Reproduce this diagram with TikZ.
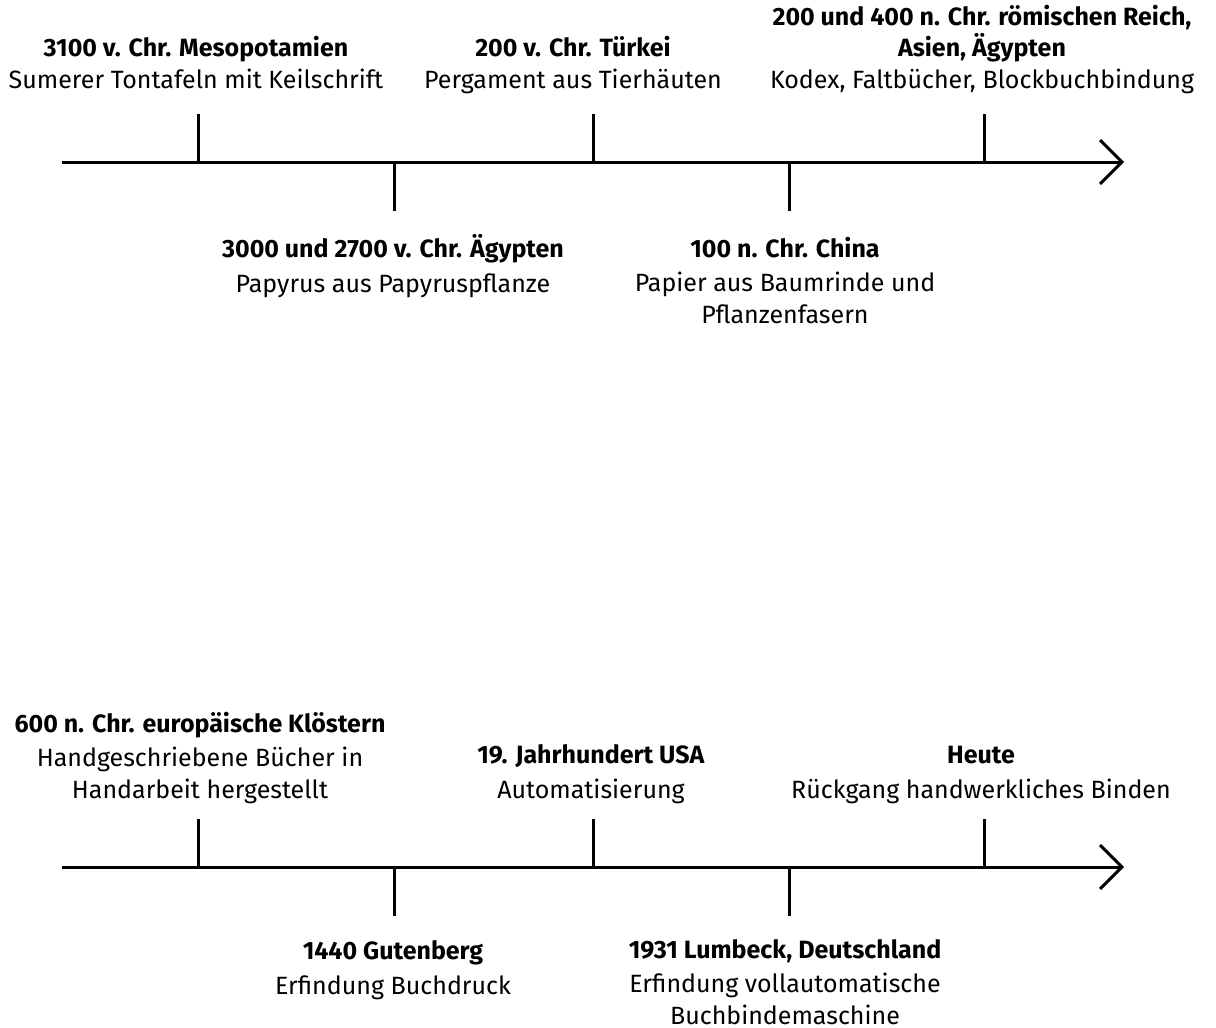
\documentclass[tikz,border=0pt]{standalone}
\usepackage{fontspec}
\setmainfont{Fira Sans}
\begin{document}
\begin{tikzpicture}[x=1pt,y=-1pt,
  axis/.style={line width=3pt},
  tick/.style={line width=3pt},
  lbl/.style={align=center,inner sep=0pt,font=\fontsize{25}{31.5}\selectfont},
  arrowhead/.style={line width=3pt,line cap=butt,line join=miter}]
\useasboundingbox (0,0) rectangle (1216,1028);
% ---- top timeline ----
\coordinate (a1s) at (62,162);
\coordinate (a1e) at (1122,162);
\draw[axis] (a1s) -- (a1e);
\coordinate (h1a) at (1100,140);
\coordinate (h1b) at (1100,184);
\draw[arrowhead] (h1a) -- (a1e) -- (h1b);
\foreach \n/\x in {t1/198,t3/593,t5/984}{
  \coordinate (\n b) at (\x,162);
  \coordinate (\n e) at (\x,114);
  \draw[tick] (\n b) -- (\n e);}
\foreach \n/\x in {t2/394,t4/789}{
  \coordinate (\n b) at (\x,162);
  \coordinate (\n e) at (\x,211);
  \draw[tick] (\n b) -- (\n e);}
\node[lbl,anchor=base] (l1) at (196,88) {\textbf{3100 v. Chr. Mesopotamien}\\Sumerer Tontafeln mit Keilschrift};
\node[lbl,anchor=base] (l3) at (573,88) {\textbf{200 v. Chr. Türkei}\\Pergament aus Tierhäuten};
\node[lbl,anchor=base] (l5) at (982,88) {\textbf{200 und 400 n. Chr. römischen Reich,}\\\textbf{Asien, Ägypten}\\Kodex, Faltbücher, Blockbuchbindung};
\node[lbl,anchor=base] (l2) at (393,292) {\textbf{3000 und 2700 v. Chr. Ägypten}\\[3pt]Papyrus aus Papyruspflanze};
\node[lbl,anchor=base] (l4) at (785,323) {\textbf{100 n. Chr. China}\\[3pt]Papier aus Baumrinde und\\Pflanzenfasern};
% ---- bottom timeline ----
\coordinate (a2s) at (62,867);
\coordinate (a2e) at (1122,867);
\draw[axis] (a2s) -- (a2e);
\coordinate (h2a) at (1100,845);
\coordinate (h2b) at (1100,889);
\draw[arrowhead] (h2a) -- (a2e) -- (h2b);
\foreach \n/\x in {u1/198,u3/593,u5/984}{
  \coordinate (\n b) at (\x,867);
  \coordinate (\n e) at (\x,819);
  \draw[tick] (\n b) -- (\n e);}
\foreach \n/\x in {u2/394,u4/789}{
  \coordinate (\n b) at (\x,867);
  \coordinate (\n e) at (\x,916);
  \draw[tick] (\n b) -- (\n e);}
\node[lbl,anchor=base] (m1) at (200,798) {\textbf{600 n. Chr. europäische Klöstern}\\[3pt]Handgeschriebene Bücher in\\Handarbeit hergestellt};
\node[lbl,anchor=base] (m3) at (591,798) {\textbf{19. Jahrhundert USA}\\[3pt]Automatisierung};
\node[lbl,anchor=base] (m5) at (981,798) {\textbf{Heute}\\[3pt]Rückgang handwerkliches Binden};
\node[lbl,anchor=base] (m2) at (393,994) {\textbf{1440 Gutenberg}\\[3pt]Erfindung Buchdruck};
\node[lbl,anchor=base] (m4) at (785,1024) {\textbf{1931 Lumbeck, Deutschland}\\[3pt]Erfindung vollautomatische\\Buchbindemaschine};
\end{tikzpicture}
\end{document}
